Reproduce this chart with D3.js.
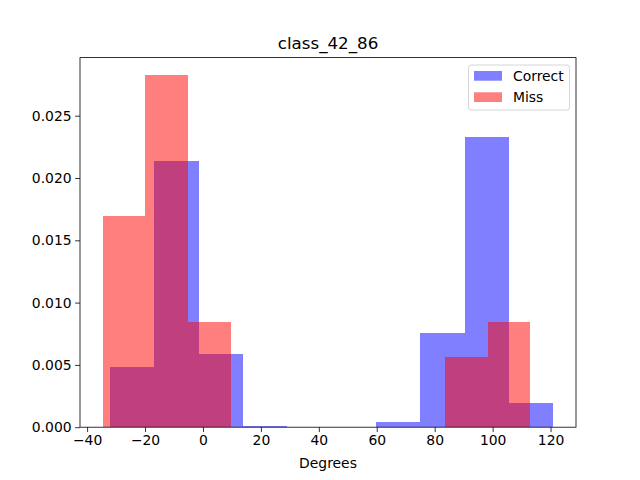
<!DOCTYPE html>
<html>
<head>
<meta charset="utf-8">
<script src="https://cdn.jsdelivr.net/npm/d3@7"></script>
<style>
  html, body { margin: 0; padding: 0; background: #fff; }
  text { font-family: "DejaVu Sans", sans-serif; }
</style>
</head>
<body>
<svg id="chart" width="640" height="480"></svg>
<script>
// Bin edges (degrees) and densities
const correctEdges = [-32.15, -16.84, -1.52, 13.79, 29.11, 44.43, 59.74, 75.06, 90.37, 105.69, 121.0];
const correctDensity = [0.00486, 0.02139, 0.00587, 0.00012, 0, 0, 0.00044, 0.00758, 0.02331, 0.00197];
const missEdges = [-34.67, -19.9, -5.13, 9.64, 24.41, 39.18, 53.95, 68.72, 83.49, 98.26, 113.03];
const missDensity = [0.01695, 0.02825, 0.00847, 0, 0, 0, 0, 0, 0.00565, 0.00847];
const xTicks = [-40, -20, 0, 20, 40, 60, 80, 100, 120];
const yTicks = [0.000, 0.005, 0.010, 0.015, 0.020, 0.025];
const seriesNames = ["Correct", "Miss"];
const chartTitle = "class_42_86";
const xLabel = "Degrees";

const svg = d3.select("#chart");
const mLeft = 80, mRight = 576, mTop = 57.6, mBottom = 427.2;

const allEdges = correctEdges.concat(missEdges);
const xmin0 = d3.min(allEdges), xmax0 = d3.max(allEdges);
const xm = (xmax0 - xmin0) * 0.05;
const ymax = d3.max(correctDensity.concat(missDensity)) * 1.05;

const x = d3.scaleLinear().domain([xmin0 - xm, xmax0 + xm]).range([mLeft, mRight]);
const y = d3.scaleLinear().domain([0, ymax]).range([mBottom, mTop]);

function bins(edges, dens) {
  return dens.map((d, i) => ({ x0: edges[i], x1: edges[i + 1], v: d }));
}

const colors = ["rgba(0,0,255,0.5)", "rgba(255,0,0,0.5)"];

[[correctEdges, correctDensity], [missEdges, missDensity]].forEach((s, k) => {
  svg.append("g").attr("shape-rendering", "crispEdges").selectAll("rect")
    .data(bins(s[0], s[1]).filter(b => b.v > 0))
    .join("rect")
    .attr("x", b => x(b.x0))
    .attr("width", b => x(b.x1) - x(b.x0))
    .attr("y", b => y(b.v))
    .attr("height", b => y(0) - y(b.v))
    .attr("fill", colors[k]);
});

// Axes
const xAxis = d3.axisBottom(x).tickValues(xTicks).tickSize(4.86).tickPadding(3.5)
  .tickFormat(d => d3.format("d")(d).replace("-", "\u2212"));
const gx = svg.append("g").attr("transform", `translate(0,${mBottom})`).call(xAxis);
const yAxis = d3.axisLeft(y).tickValues(yTicks).tickSize(4.86).tickPadding(3.5)
  .tickFormat(d3.format(".3f"));
const gy = svg.append("g").attr("transform", `translate(${mLeft},0)`).call(yAxis);
[gx, gy].forEach(g => {
  g.select(".domain").remove();
  g.selectAll(".tick line").attr("stroke", "#000").attr("stroke-width", 0.8);
  g.selectAll(".tick text").attr("fill", "#000").style("font-size", "13.9px")
    .style("font-family", "'DejaVu Sans', sans-serif");
});
gx.selectAll(".tick text").attr("dy", "0.71em");

// Frame
svg.append("rect").attr("x", mLeft).attr("y", mTop)
  .attr("width", mRight - mLeft).attr("height", mBottom - mTop)
  .attr("fill", "none").attr("stroke", "#000").attr("stroke-width", 0.8);

// Title and label
svg.append("text").attr("x", (mLeft + mRight) / 2).attr("y", 48.5)
  .attr("text-anchor", "middle").style("font-size", "16.7px").text(chartTitle);
svg.append("text").attr("x", (mLeft + mRight) / 2).attr("y", 467.5)
  .attr("text-anchor", "middle").style("font-size", "13.9px").text(xLabel);

// Legend
const lg = svg.append("g");
lg.append("rect").attr("x", 468.5).attr("y", 65).attr("width", 101).attr("height", 45)
  .attr("rx", 2.5).attr("fill", "rgba(255,255,255,0.8)").attr("stroke", "#cccccc").attr("stroke-width", 0.8);
seriesNames.forEach((n, i) => {
  lg.append("rect").attr("x", 474).attr("y", 71 + i * 21.3).attr("width", 28).attr("height", 9.7)
    .attr("fill", colors[i]);
  lg.append("text").attr("x", 513).attr("y", 81 + i * 21.3).style("font-size", "13.9px").text(n);
});
</script>
</body>
</html>
